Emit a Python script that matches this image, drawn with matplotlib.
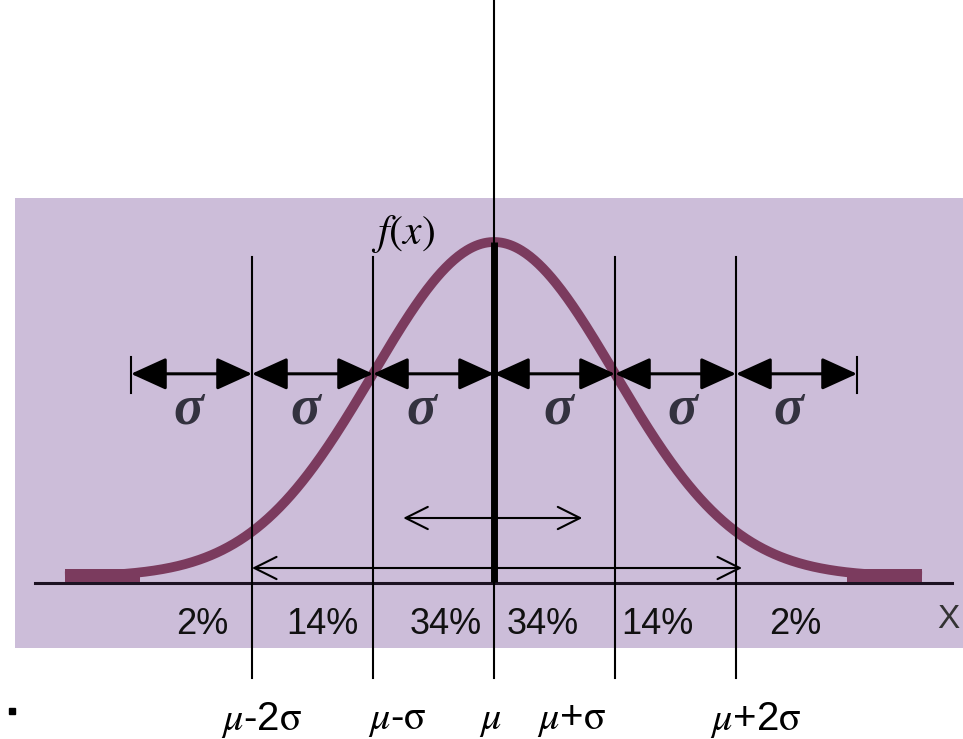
import numpy as np
import matplotlib
matplotlib.use('Agg')
import matplotlib.pyplot as plt
from matplotlib.patches import FancyArrowPatch, Rectangle

plt.rcParams['mathtext.fontset'] = 'stix'
plt.rcParams['font.family'] = ['Liberation Sans', 'DejaVu Sans']

# Data (in units of sigma, mu = 0)
band_edges = [-3, -2, -1, 0, 1, 2, 3]
percent_values = [2, 14, 34, 34, 14, 2]
tick_positions = [-2, -1, 0, 1, 2]
tick_labels = [r'$\mu$-2$\mathrm{\sigma}$', r'$\mu$-$\mathrm{\sigma}$', r'$\mu$',
               r'$\mu$+$\mathrm{\sigma}$', r'$\mu$+2$\mathrm{\sigma}$']
inner_arrow = (-0.75, 0.73)
outer_arrow = (-2.0, 2.05)

# pixel layout -> sigma units
px_sigma = 121.0
px_mu = 494.0
px_base = 577.0
px_peak = 335.0
W, H = 963, 739

def zx(px):
    return (px - px_mu) / px_sigma

def zy(py):
    return (px_base - py) / px_peak

def pdf(z):
    return np.exp(-0.5 * np.asarray(z) ** 2)

fig = plt.figure(figsize=(W / 100, H / 100), dpi=100)
ax = fig.add_axes([0, 0, 1, 1])
ax.set_xlim(zx(0), zx(W))
ax.set_ylim(zy(H), zy(0))
ax.axis('off')

# lavender panel
ax.add_patch(Rectangle((zx(15), zy(648)), zx(W) - zx(15), zy(198) - zy(648),
                       facecolor='#CCBDD9', edgecolor='none', zorder=0))

# baseline
ax.plot([zx(35), zx(952)], [zy(583), zy(583)], color='#1c1222', lw=2.2, zorder=2)

# normal curve with flat thick tails
z = np.linspace(zx(65), zx(922), 600)
ax.plot(z, pdf(z), color='#7B3B5E', lw=7, solid_capstyle='butt', zorder=3)
for a, b in [(zx(65), zx(140)), (zx(847), zx(922))]:
    ax.add_patch(Rectangle((a, zy(582)), b - a, zy(569) - zy(582),
                           facecolor='#7B3B5E', edgecolor='none', zorder=3))

# vertical guide lines
for e in tick_positions:
    if e == 0:
        continue
    ax.plot([e, e], [zy(678), zy(257)], color='black', lw=1.5, zorder=4)
ax.plot([0, 0], [zy(678), zy(0)], color='black', lw=1.5, zorder=4)
ax.plot([0, 0], [zy(582), 1.0], color='black', lw=5, solid_capstyle='butt', zorder=5)

# sigma arrow row through inflection points
row_y = float(pdf(1))
for a, b in zip(band_edges[:-1], band_edges[1:]):
    arr = FancyArrowPatch((a, row_y), (b, row_y),
                          arrowstyle='<|-|>,head_length=1.1,head_width=0.5',
                          mutation_scale=20, color='black', lw=2.2,
                          shrinkA=0, shrinkB=0, zorder=6)
    ax.add_patch(arr)
for e in [band_edges[0], band_edges[-1]]:
    ax.plot([e, e], [zy(357), zy(393)], color='black', lw=1.5, zorder=6)

sig_off = [-0.03, -0.06, -0.10, 0.03, 0.06, -0.07]
for i, (a, b) in enumerate(zip(band_edges[:-1], band_edges[1:])):
    ax.text((a + b) / 2 + sig_off[i], zy(410), '\u03c3', ha='center', va='center',
            fontsize=40, fontweight='bold', fontstyle='italic',
            family=['Liberation Serif', 'DejaVu Serif'], color='#33323f', zorder=7)

# f(x)
ax.text(zx(403), zy(234), r'$f(x)$', ha='center', va='center', fontsize=30, zorder=7)

# horizontal thin arrows
for (a, b), yp in [(inner_arrow, 518), (outer_arrow, 568)]:
    ax.add_patch(FancyArrowPatch((a, zy(yp)), (b, zy(yp)),
                                 arrowstyle='<->,head_length=0.8,head_width=0.4',
                                 mutation_scale=20, color='black', lw=1.5,
                                 shrinkA=0, shrinkB=0, zorder=6))

# percentages
pct_off = [0.09, 0.08, 0.10, -0.10, -0.15, -0.01]
for i, (a, b) in enumerate(zip(band_edges[:-1], band_edges[1:])):
    ax.text((a + b) / 2 + pct_off[i], zy(625), f'{percent_values[i]}%',
            ha='center', va='center', fontsize=26, color='#111111', zorder=7)

ax.text(zx(948), zy(620), 'X', ha='center', va='center', fontsize=24,
        color='#333333', zorder=7)

# bottom labels
lab_off = [0.08, 0.20, -0.03, -0.36, 0.16]
for pos, lab, off in zip(tick_positions, tick_labels, lab_off):
    ax.text(pos + off, zy(720), lab, ha='center', va='center', fontsize=29,
            color='black', zorder=7)

# small bullet
ax.plot([zx(12)], [zy(711)], marker='s', color='black', markersize=4)

fig.savefig('out.png', dpi=100)
